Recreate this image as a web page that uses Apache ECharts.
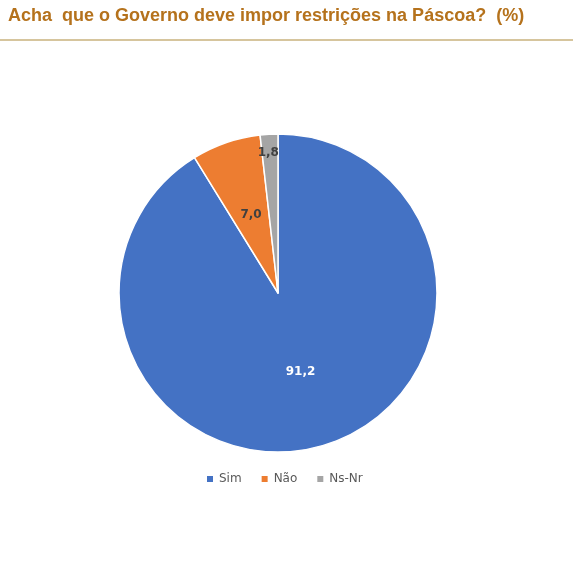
<!DOCTYPE html>
<html>
<head>
<meta charset="utf-8">
<script src="https://cdn.jsdelivr.net/npm/echarts@6/dist/echarts.min.js"></script>
<style>
  html, body { margin: 0; padding: 0; background: #fff; }
  #chart { width: 573px; height: 561px; }
</style>
</head>
<body>
<div id="chart"></div>
<script>
// dados do gráfico
var categorias = ['Sim', 'Não', 'Ns-Nr'];
var valores = [91.2, 7.0, 1.8];
var cores = ['#4472C4', '#ED7D31', '#A5A5A5'];

var myChart = echarts.init(document.getElementById('chart'));

var dados = categorias.map(function (nome, i) {
    var item = { name: nome, value: valores[i], itemStyle: { color: cores[i] } };
    if (i === 0) {
        item.label = { color: '#ffffff' };
    }
    if (i === 2) {
        item.label = { offset: [-5, -58] };   // rótulo empurrado para a borda
    }
    return item;
});

var option = {
    animation: false,
    title: {
        text: 'Acha  que o Governo deve impor restrições na Páscoa?  (%)',
        left: 3,
        top: 2,
        textStyle: {
            color: '#B5721C',
            fontFamily: 'Liberation Sans, Arial, sans-serif',
            fontWeight: 'bold',
            fontSize: 18
        }
    },
    graphic: [{
        type: 'line',
        shape: { x1: 0, y1: 40, x2: 573, y2: 40 },
        style: { stroke: '#C9B27C', lineWidth: 1.5 }
    }],
    legend: {
        bottom: 71,
        left: 200,
        icon: 'rect',
        itemWidth: 8,
        itemHeight: 8,
        itemGap: 18,
        data: categorias,
        textStyle: {
            color: '#595959',
            fontSize: 12,
            fontFamily: 'DejaVu Sans, sans-serif'
        }
    },
    series: [{
        name: 'Páscoa',
        type: 'pie',
        center: [278, 293],
        radius: [0, 159],
        startAngle: 90,
        clockwise: true,
        itemStyle: { borderColor: '#ffffff', borderWidth: 1.5 },
        label: {
            show: true,
            position: 'inside',
            color: '#404040',
            fontSize: 12,
            fontWeight: 'bold',
            fontFamily: 'DejaVu Sans, sans-serif',
            formatter: function (p) {
                return p.value.toFixed(1).replace('.', ',');
            }
        },
        labelLine: { show: false },
        emphasis: { disabled: true },
        data: dados
    }]
};

myChart.setOption(option);
</script>
</body>
</html>
